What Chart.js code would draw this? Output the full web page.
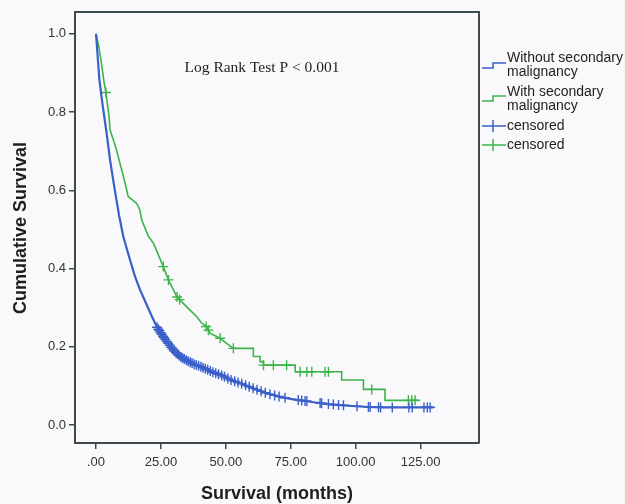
<!DOCTYPE html>
<html><head><meta charset="utf-8">
<script src="https://cdn.jsdelivr.net/npm/chart.js@4"></script>
<style>html,body{margin:0;padding:0;background:#f9f9fc;}#wrap{width:625px;height:504px;position:relative}</style>
</head><body><div id="wrap"><canvas id="c" width="625" height="504"></canvas></div>
<script>
// ---- data ----
const xTicks = [0, 25, 50, 75, 100, 125];
const xTickLabels = ['.00', '25.00', '50.00', '75.00', '100.00', '125.00'];
const yTicks = [0, 0.2, 0.4, 0.6, 0.8, 1.0];
const yTickLabels = ['0.0', '0.2', '0.4', '0.6', '0.8', '1.0'];

// Without secondary malignancy (blue)
const withoutTime = [0, 1.3, 2.5, 4, 5.4, 7, 8.9, 10.5, 13.1, 15, 17, 19, 21, 23.4, 26, 28, 30, 32.4, 35, 38, 40, 45, 48, 52, 55.5, 60, 65.8, 70.9, 75, 80, 85, 90, 94, 100, 105, 110, 130];
const withoutSurv = [1.0, 0.882, 0.82, 0.75, 0.678, 0.61, 0.535, 0.482, 0.422, 0.38, 0.345, 0.315, 0.285, 0.251, 0.225, 0.207, 0.19, 0.175, 0.165, 0.155, 0.150, 0.135, 0.128, 0.115, 0.107, 0.095, 0.081, 0.072, 0.067, 0.062, 0.057, 0.053, 0.051, 0.048, 0.046, 0.045, 0.045];

// With secondary malignancy (green)
const withTime = [0, 1, 2, 3, 3.8, 5, 5.4, 6.7, 8, 9.9, 11.2, 12.4, 15.6, 16.9, 17.6, 20.2, 22.1, 24, 25.9, 27.9, 29.5, 31.1, 33.6, 36, 38.8, 40.5, 42.6, 44, 47.8, 50, 52.9, 59.5, 60.6, 63.2, 64.5, 76.7, 94.6, 103, 111.3, 124.5];
const withSurv = [1.0, 0.97, 0.93, 0.88, 0.85, 0.79, 0.754, 0.729, 0.70, 0.652, 0.618, 0.584, 0.567, 0.55, 0.524, 0.482, 0.465, 0.435, 0.405, 0.371, 0.35, 0.328, 0.311, 0.295, 0.277, 0.262, 0.251, 0.234, 0.222, 0.21, 0.196, 0.196, 0.175, 0.162, 0.153, 0.136, 0.115, 0.091, 0.063, 0.063];
const withStepFrom = 52.9; // after this time the green curve is drawn as visible steps

// censor times
const withoutCensor = [23.5, 24, 24.4, 24.9, 25.3, 25.8, 26.2, 26.7, 27.3, 27.8, 28.4, 29, 29.5, 30.1, 30.8, 31.4, 32, 32.7, 33.3, 34, 34.8, 35.5, 36.3, 37, 37.8, 38.6, 39.5, 40.4, 41.2, 42.1, 43, 44, 45, 46.1, 47.2, 48.4, 49.5, 50.8, 52, 53.4, 54.7, 56.1, 57.6, 59, 60.5, 62, 63.6, 65.2, 67, 68.8, 70.5, 72.8, 77.9, 79.2, 80.5, 81.2, 86.3, 86.9, 89.5, 91.4, 93.4, 95.3, 100.5, 104.9, 105.6, 108.8, 109.6, 114.1, 120.5, 121.8, 126.3, 127.6, 128.7];
const withCensor = [3.8, 25.9, 27.9, 31.2, 32.2, 42.4, 43.3, 47.8, 52.9, 64.5, 68.3, 73.4, 78.6, 81.2, 83.1, 88.2, 89.5, 106.2, 120.3, 121.6, 122.9];

const BLUE = '#3a5fc8';
const GREEN = '#3cb44a';
const AXIS = '#3d4b4b';
const TEXT = '#1e1e1e';

function pts(t, s) { return t.map((v, i) => ({ x: v, y: s[i] })); }
function lineAt(t, s, x) {
  for (let i = 1; i < t.length; i++) {
    if (x <= t[i]) { const f = (x - t[i-1]) / (t[i] - t[i-1]); return s[i-1] + f * (s[i] - s[i-1]); }
  }
  return s[s.length - 1];
}
function stepAt(t, s, x) { let v = s[0]; for (let i = 0; i < t.length; i++) { if (t[i] <= x) v = s[i]; } return v; }
function greenAt(x) { return x <= withStepFrom ? lineAt(withTime, withSurv, x) : stepAt(withTime, withSurv, x); }

const allGreen = pts(withTime, withSurv);
const greenEarly = allGreen.filter(p => p.x <= withStepFrom);
const greenLate = allGreen.filter(p => p.x >= withStepFrom);

const decor = {
  id: 'decor',
  afterDraw(chart) {
    const ctx = chart.ctx, a = chart.chartArea;
    ctx.save();
    ctx.strokeStyle = AXIS; ctx.lineWidth = 2;
    ctx.beginPath(); ctx.moveTo(a.left, a.top); ctx.lineTo(a.right, a.top); ctx.lineTo(a.right, a.bottom); ctx.stroke();
    ctx.fillStyle = TEXT;
    ctx.font = '15.5px "Liberation Serif"';
    ctx.textAlign = 'center'; ctx.textBaseline = 'middle';
    ctx.fillText('Log Rank Test P < 0.001', 262, 68);
    ctx.font = 'bold 18px "Liberation Sans"';
    ctx.fillText('Survival (months)', 277, 494);
    ctx.save(); ctx.translate(21, 228); ctx.rotate(-Math.PI / 2); ctx.fillText('Cumulative Survival', 0, 0); ctx.restore();
    ctx.font = '14px "Liberation Sans"';
    ctx.textAlign = 'left';
    const lx = 482, tx = 507;
    function stepSym(color, y) {
      ctx.strokeStyle = color; ctx.lineWidth = 1.5;
      ctx.beginPath(); ctx.moveTo(lx, y + 4); ctx.lineTo(lx + 11, y + 4); ctx.lineTo(lx + 11, y - 1); ctx.lineTo(lx + 24, y - 1); ctx.stroke();
    }
    function crossSym(color, y) {
      ctx.strokeStyle = color; ctx.lineWidth = 1.5;
      ctx.beginPath(); ctx.moveTo(lx, y); ctx.lineTo(lx + 24, y); ctx.moveTo(lx + 11, y - 6); ctx.lineTo(lx + 11, y + 6); ctx.stroke();
    }
    stepSym(BLUE, 64);
    ctx.fillStyle = TEXT;
    ctx.fillText('Without secondary', tx, 58); ctx.fillText('malignancy', tx, 72);
    stepSym(GREEN, 97);
    ctx.fillStyle = TEXT;
    ctx.fillText('With secondary', tx, 92); ctx.fillText('malignancy', tx, 106);
    crossSym(BLUE, 126); ctx.fillStyle = TEXT; ctx.fillText('censored', tx, 126);
    crossSym(GREEN, 145); ctx.fillStyle = TEXT; ctx.fillText('censored', tx, 145);
    ctx.restore();
  }
};

new Chart(document.getElementById('c'), {
  type: 'line',
  data: {
    datasets: [
      { label: 'Without secondary malignancy', data: pts(withoutTime, withoutSurv), borderColor: BLUE, borderWidth: 2.2, pointRadius: 0, stepped: false, tension: 0, fill: false },
      { label: 'With secondary malignancy', data: greenEarly, borderColor: GREEN, borderWidth: 1.6, pointRadius: 0, stepped: false, tension: 0, fill: false },
      { label: 'With secondary malignancy (late)', data: greenLate, borderColor: GREEN, borderWidth: 1.6, pointRadius: 0, stepped: 'before', fill: false },
      { label: 'censored', type: 'scatter', data: withoutCensor.map(t => ({ x: t, y: lineAt(withoutTime, withoutSurv, t) })), pointStyle: 'cross', pointRadius: 5, borderColor: BLUE, borderWidth: 1.4, showLine: false },
      { label: 'censored', type: 'scatter', data: withCensor.map(t => ({ x: t, y: greenAt(t) })), pointStyle: 'cross', pointRadius: 5, borderColor: GREEN, borderWidth: 1.4, showLine: false }
    ]
  },
  options: {
    responsive: false, animation: false,
    layout: { padding: { left: 0, top: 12, right: 146, bottom: 0 } },
    plugins: { legend: { display: false }, tooltip: { enabled: false } },
    scales: {
      x: {
        type: 'linear', min: -8.1, max: 147.5,
        afterBuildTicks: s => { s.ticks = xTicks.map(v => ({ value: v })); },
        afterFit: s => { s.height = 61; },
        ticks: { autoSkip: false, maxRotation: 0, padding: 6, color: '#333', font: { family: 'Liberation Sans', size: 13 }, callback: v => xTickLabels[xTicks.indexOf(v)] },
        grid: { drawOnChartArea: false, drawTicks: true, tickLength: 6, color: AXIS, lineWidth: 1.5 },
        border: { display: true, color: AXIS, width: 2 }
      },
      y: {
        type: 'linear', min: -0.046, max: 1.056,
        afterBuildTicks: s => { s.ticks = yTicks.map(v => ({ value: v })); },
        afterFit: s => { s.width = 75; },
        ticks: { autoSkip: false, padding: 3, color: '#333', font: { family: 'Liberation Sans', size: 13 }, callback: v => yTickLabels[yTicks.findIndex(t => Math.abs(t - v) < 1e-9)] },
        grid: { drawOnChartArea: false, drawTicks: true, tickLength: 6, color: AXIS, lineWidth: 1.5 },
        border: { display: true, color: AXIS, width: 2 }
      }
    }
  },
  plugins: [decor]
});
</script></body></html>
